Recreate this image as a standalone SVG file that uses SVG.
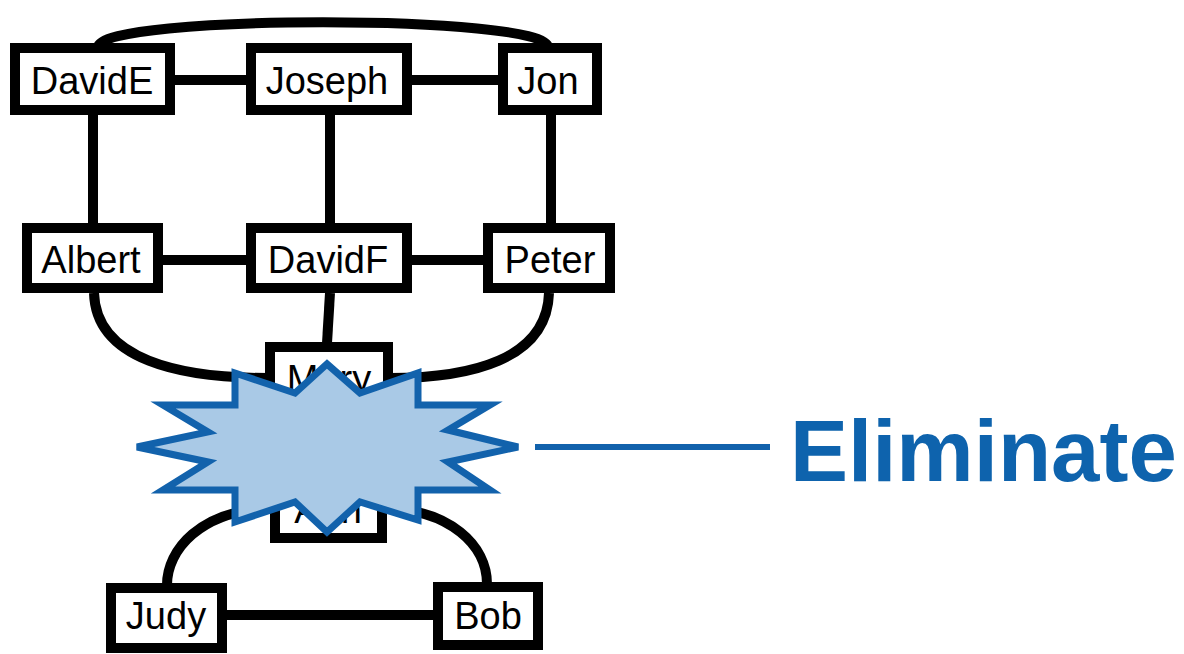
<svg xmlns="http://www.w3.org/2000/svg" width="1184" height="654" viewBox="0 0 1184 654">
<style>
.box{fill:#fff;stroke:#000;stroke-width:10}
.lbl{font-family:"Liberation Sans",Arial,sans-serif;font-size:38px;fill:#000;text-anchor:middle}
.edge{fill:none;stroke:#000;stroke-width:10}
</style>
<rect width="1184" height="654" fill="#fff"/>
<g id="connectors">
<path class="edge" d="M98,47 C100,14 546,14 548,47"/>
<line class="edge" x1="175" y1="80" x2="247" y2="80"/>
<line class="edge" x1="412" y1="80" x2="498" y2="80"/>
<line class="edge" x1="93" y1="115" x2="93" y2="223"/>
<line class="edge" x1="330" y1="115" x2="330" y2="223"/>
<line class="edge" x1="551" y1="115" x2="551" y2="223"/>
<line class="edge" x1="163" y1="260" x2="247" y2="260"/>
<line class="edge" x1="412" y1="260" x2="483" y2="260"/>
<line class="edge" x1="330" y1="293" x2="327" y2="343"/>
<path class="edge" d="M94,293 C96,360 180,378 268,378"/>
<path class="edge" d="M549,293 C547,360 470,378 390,378"/>
<path class="edge" d="M272,508 C200,510 167,550 167,585"/>
<path class="edge" d="M385,508 C450,510 487,545 487,584"/>
<line class="edge" x1="227" y1="615" x2="434" y2="615"/>
</g>
<g id="DavidE"><rect class="box" x="15" y="48" width="155" height="62"/><text class="lbl" x="92" y="94">DavidE</text></g>
<g id="Joseph"><rect class="box" x="251" y="48" width="156" height="62"/><text class="lbl" x="327" y="94">Joseph</text></g>
<g id="Jon"><rect class="box" x="503" y="48" width="94" height="62"/><text class="lbl" x="548" y="94">Jon</text></g>
<g id="Albert"><rect class="box" x="27" y="228" width="131" height="60"/><text class="lbl" x="91" y="273">Albert</text></g>
<g id="DavidF"><rect class="box" x="251" y="228" width="156" height="60"/><text class="lbl" x="328" y="273">DavidF</text></g>
<g id="Peter"><rect class="box" x="488" y="228" width="122" height="60"/><text class="lbl" x="550" y="273">Peter</text></g>
<g id="Mary"><rect class="box" x="270" y="347" width="118" height="60"/><text class="lbl" x="329" y="392">Mary</text></g>
<g id="Ann"><rect class="box" x="275" y="478" width="107" height="60"/><text class="lbl" x="328" y="523">Ann</text></g>
<g id="Judy"><rect class="box" x="111" y="588" width="111" height="60"/><text class="lbl" x="166" y="629">Judy</text></g>
<g id="Bob"><rect class="box" x="438" y="587" width="100" height="58"/><text class="lbl" x="488" y="629">Bob</text></g>
<g id="star">
<polygon fill="#A9C9E6" stroke="#1262AC" stroke-width="7" stroke-linejoin="miter" points="327,364 360,393 418,373 418,405 490,405 448,430 518,447 448,462 490,490 418,490 418,520 360,502 327,532 295,502 235,522 235,490 163,490 208,462 137,447 208,432 163,405 235,405 235,373 295,393"/>
</g>
<g id="eliminate">
<line x1="535" y1="447" x2="770" y2="447" stroke="#1262AC" stroke-width="6"/>
<text x="790" y="481" font-family="'Liberation Sans',Arial,sans-serif" font-size="87" font-weight="bold" fill="#0E63AD">Eliminate</text>
</g>
</svg>
